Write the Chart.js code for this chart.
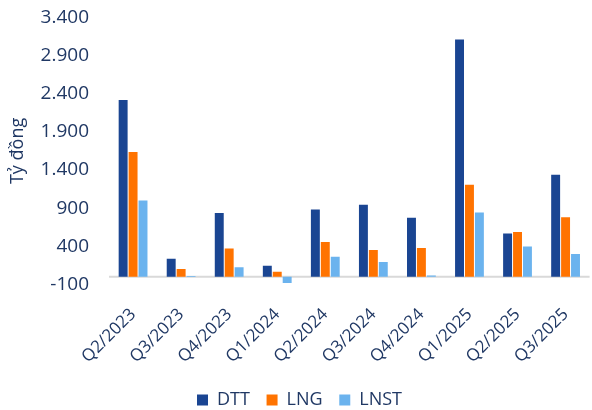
<!DOCTYPE html>
<html lang="vi">
  <head>
    <meta charset="UTF-8" />
    <title>DTT LNG LNST</title>
    <style>
      html, body { margin: 0; padding: 0; background: #fff; overflow: hidden; }
      #wrap { width: 592px; height: 425px; margin-top: -6px; }
    </style>
  </head>
  <body>
    <div id="wrap"><canvas id="myChart"></canvas></div>
    <script src="https://cdn.jsdelivr.net/npm/chart.js"></script>
    <script>
      const quarters = ["Q2/2023", "Q3/2023", "Q4/2023", "Q1/2024", "Q2/2024",
        "Q3/2024", "Q4/2024", "Q1/2025", "Q2/2025", "Q3/2025"];
      const dtt = [2317, 238, 838, 146, 883, 944, 773, 3111, 567, 1338];
      const lng = [1637, 101, 370, 67, 457, 351, 378, 1207, 588, 782];
      const lnst = [1001, 10, 124, -80, 264, 194, 18, 844, 396, 299];
      const textColor = "#203864";
      const fontFam = "'Open Sans'";

      // grey line at zero
      const zeroLine = {
        id: "zeroLine",
        beforeDatasetsDraw(chart) {
          const { ctx, chartArea, scales } = chart;
          const y = scales.y.getPixelForValue(0);
          ctx.save();
          ctx.strokeStyle = "#d9d9d9";
          ctx.lineWidth = 2;
          ctx.beginPath();
          ctx.moveTo(chartArea.left, y);
          ctx.lineTo(chartArea.right, y);
          ctx.stroke();
          ctx.restore();
        },
      };

      new Chart("myChart", {
        type: "bar",
        data: {
          labels: quarters,
          datasets: [
            { label: "DTT", data: dtt, backgroundColor: "#1a4592" },
            { label: "LNG", data: lng, backgroundColor: "#ff7300" },
            { label: "LNST", data: lnst, backgroundColor: "#6bb3ee" },
          ],
        },
        options: {
          responsive: true,
          maintainAspectRatio: false,
          animation: false,
          datasets: { bar: { categoryPercentage: 0.62, barPercentage: 0.9 } },
          layout: { padding: { left: 7, right: 0, top: 0, bottom: 0 } },
          plugins: {
            legend: {
              position: "bottom",
              labels: {
                color: textColor,
                font: { family: fontFam, size: 18 },
                boxWidth: 11,
                boxHeight: 11,
                padding: 12,
                // a bit more room between items
                generateLabels: (chart) =>
                  Chart.defaults.plugins.legend.labels
                    .generateLabels(chart)
                    .map((l, i, arr) => ({ ...l, text: i < arr.length - 1 ? l.text + " " : l.text })),
              },
            },
            tooltip: { enabled: false },
          },
          scales: {
            x: {
              grid: { display: false },
              border: { display: false },
              ticks: {
                color: textColor,
                font: { family: fontFam, size: 17 },
                minRotation: 45,
                maxRotation: 45,
                padding: 12,
              },
            },
            y: {
              min: -100,
              max: 3400,
              grid: { display: false },
              border: { display: false },
              ticks: {
                stepSize: 500,
                color: textColor,
                font: { family: fontFam, size: 19 },
                padding: 12,
                callback: (v) => v.toLocaleString("de-DE"),
              },
              title: {
                display: true,
                text: "Tỷ đồng",
                color: textColor,
                font: { family: fontFam, size: 18 },
                padding: { top: 0, bottom: 0 },
              },
            },
          },
        },
        plugins: [zeroLine],
      });
    </script>
  </body>
</html>
